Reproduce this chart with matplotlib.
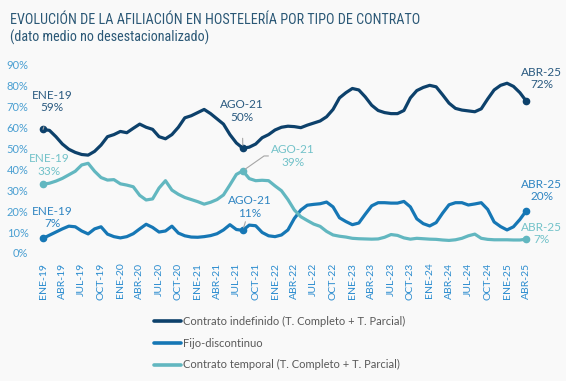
import matplotlib.pyplot as plt
from matplotlib import font_manager

# monthly series, ENE-19 .. ABR-25 (76 months), % of affiliation
indefinido = [59, 58.5, 55.5, 52, 49.5, 48, 47, 46.7, 48.5, 51.5, 55.5, 56.5,
              58, 57.4, 59.5, 61.5, 60, 59, 55.5, 54.5, 56.5, 60, 64.5, 65.5,
              67, 68.5, 66.5, 64, 61.5, 56.5, 52.5, 50, 50.5, 52, 55, 56.5,
              58.7, 60, 60.5, 60.3, 59.8, 61, 62, 63, 65, 68.5, 74, 76.5,
              78.5, 77.8, 74.5, 70.5, 68, 67, 66.5, 66.5, 68, 74, 77.5, 79,
              80, 79.3, 75.5, 71.5, 69, 68.2, 67.8, 67.4, 68.8, 73.5, 77.8, 80,
              81, 79.5, 76.5, 72.4]
fijo_discontinuo = [7, 8.5, 10, 11.5, 12.8, 12.5, 10.5, 9.1, 11.5, 12.5, 9, 7.8,
                    7.2, 7.8, 9.2, 11.5, 13.7, 12.2, 10, 10.5, 12.8, 9.5, 8.2, 7.6,
                    7.5, 7.8, 8.3, 9.2, 11, 13.5, 11.2, 10.8, 13.3, 13, 9.8, 8.2,
                    7.8, 8.6, 11, 16.5, 20.5, 22.8, 23.2, 23.5, 24.3, 22, 16.8, 15,
                    13.5, 14.3, 18.5, 22.5, 24, 24, 23.8, 23.8, 24.6, 22, 16.3, 14,
                    12.9, 14.5, 19, 23, 24, 24, 22.9, 23.4, 24, 20.8, 14.8, 12.6,
                    11, 12.5, 16, 20.2]
temporal = [32.8, 33.3, 34.3, 35.6, 37.3, 39, 42, 42.8, 39, 36, 34.8, 35,
            33, 32.4, 31.6, 27.5, 25.3, 25.8, 31, 34.5, 30, 28, 26.5, 25.5,
            24.5, 23.3, 24.2, 25.5, 27.7, 32.5, 37.5, 39.2, 35.5, 34.5, 34.7, 34.5,
            32, 29.7, 25.5, 20.5, 17.3, 15.5, 13.8, 12.7, 10.3, 8.6, 8, 7.6,
            7, 6.8, 6.7, 6.6, 6.7, 7.5, 8.8, 8.4, 7.2, 6.6, 7, 6.8,
            6.6, 6.5, 6.2, 6, 6.3, 7, 8.2, 9, 7, 6.5, 6.3, 6.3,
            6.3, 6.2, 6.2, 6.6]

tick_labels = ['ENE-19', 'ABR-19', 'JUL-19', 'OCT-19', 'ENE-20', 'ABR-20', 'JUL-20',
               'OCT-20', 'ENE-21', 'ABR-21', 'JUL-21', 'OCT-21', 'ENE-22', 'ABR-22',
               'JUL-22', 'OCT-22', 'ENE-23', 'ABR-23', 'JUL-23', 'OCT-23', 'ENE-24',
               'ABR-24', 'JUL-24', 'OCT-24', 'ENE-25', 'ABR-25']
series_names = ['Contrato indefinido (T. Completo + T. Parcial)',
                'Fijo-discontinuo',
                'Contrato temporal (T. Completo + T. Parcial)']
colors = ['#0d416b', '#1677b5', '#62b7c0']
label_colors = ['#2a5a80', '#2f85c2', '#72c2c9']
ago21 = 31  # index of AGO-21

installed = {f.name for f in font_manager.fontManager.ttflist}
body_font = 'Lato' if 'Lato' in installed else 'DejaVu Sans'
plt.rcParams['font.family'] = [body_font, 'DejaVu Sans']

# narrow face for the heading
title_kw = dict(family='DejaVu Sans', stretch='condensed')
for name in ['Liberation Sans Narrow', 'Arial Narrow', 'Roboto Condensed']:
    if name in installed:
        title_kw = dict(family=name)
        break

bg = '#f9f9f9'
fig = plt.figure(figsize=(5.66, 3.81), dpi=100, facecolor=bg)
ax = fig.add_axes([0.0675, 0.336, 0.871, 0.495])
ax.set_facecolor(bg)

x = list(range(len(indefinido)))
all_series = [indefinido, fijo_discontinuo, temporal]
for ys, c, name in zip(all_series, colors, series_names):
    ax.plot(x, ys, color=c, lw=2.3, label=name, solid_capstyle='round')
    ax.plot([0, ago21, x[-1]], [ys[0], ys[ago21], ys[-1]], 'o', color=c, ms=4.5)

ax.set_xlim(-0.75, 75.75)
ax.set_ylim(0, 90)
ax.set_yticks(range(0, 91, 10))
ax.set_yticklabels([f'{v}%' for v in range(0, 91, 10)], color='#4a9fd2', fontsize=8)
ax.set_xticks(range(0, len(x), 3))
ax.set_xticklabels(tick_labels, rotation=90, color='#2b8ccf', fontsize=7.5)
ax.tick_params(length=0, pad=7)
ax.tick_params(axis='y', pad=7)
for s in ax.spines.values():
    s.set_visible(False)

ann_kw = dict(ha='center', va='center', fontsize=8.5, linespacing=1.2)
line_kw = dict(arrowstyle='-', color='#a6a6a6', lw=0.8)
# ENE-19
ax.annotate('ENE-19\n59%', xy=(0, indefinido[0]), xytext=(1.4, 72.3), color=label_colors[0],
            arrowprops=dict(line_kw, shrinkA=8, shrinkB=2), **ann_kw)
ax.annotate('ENE-19\n33%', xy=(0, temporal[0]), xytext=(0.9, 42), color=label_colors[2], **ann_kw)
ax.annotate('ENE-19\n7%', xy=(0, fijo_discontinuo[0]), xytext=(1.4, 16.9), color=label_colors[1], **ann_kw)
# AGO-21
ax.annotate('AGO-21\n50%', xy=(ago21, indefinido[ago21]), xytext=(30.9, 67.7), color=label_colors[0],
            arrowprops=dict(line_kw, shrinkA=9, shrinkB=2), **ann_kw)
ax.annotate('AGO-21\n39%', xy=(ago21, temporal[ago21]), xytext=(38.8, 46.3), color=label_colors[2],
            arrowprops=dict(line_kw, shrinkA=0, shrinkB=2, connectionstyle='angle,angleA=0,angleB=35'),
            **ann_kw)
ax.annotate('AGO-21\n11%', xy=(ago21, fijo_discontinuo[ago21]), xytext=(32.1, 21.9), color=label_colors[1],
            arrowprops=dict(line_kw, shrinkA=10, shrinkB=2), **ann_kw)
# ABR-25
ax.annotate('ABR-25\n72%', xy=(75, indefinido[-1]), xytext=(77.4, 83.3), color=label_colors[0],
            annotation_clip=False, **ann_kw)
ax.annotate('ABR-25\n20%', xy=(75, fijo_discontinuo[-1]), xytext=(77.4, 29.8), color=label_colors[1],
            annotation_clip=False, **ann_kw)
ax.annotate('ABR-25\n7%', xy=(75, temporal[-1]), xytext=(77.4, 9.3), color=label_colors[2],
            annotation_clip=False, **ann_kw)

t1 = fig.text(0.018, 0.948, 'EVOLUCIÓN DE LA AFILIACIÓN EN HOSTELERÍA POR TIPO DE CONTRATO',
              fontsize=11, color='#2b5876', va='center', **title_kw)
t2 = fig.text(0.018, 0.902, '(dato medio no desestacionalizado)',
              fontsize=11, color='#2b5876', va='center', **title_kw)

# keep the heading inside the ~408 px it takes in the original
renderer = fig.canvas.get_renderer()
w = t1.get_window_extent(renderer).width
if w > 410:
    size = 11 * 408 / w
    t1.set_fontsize(size)
    t2.set_fontsize(size)

handles, labels = ax.get_legend_handles_labels()
leg = fig.legend(handles, labels, loc='upper left', bbox_to_anchor=(0.272, 0.170),
                 frameon=False, fontsize=8, handlelength=2.4, handletextpad=0.25,
                 labelspacing=0.95, borderpad=0, borderaxespad=0)
for t in leg.get_texts():
    t.set_color('#595959')
for h in leg.get_lines():
    h.set_linewidth(2.6)

fig.savefig('out.png', dpi=100, facecolor=bg)
